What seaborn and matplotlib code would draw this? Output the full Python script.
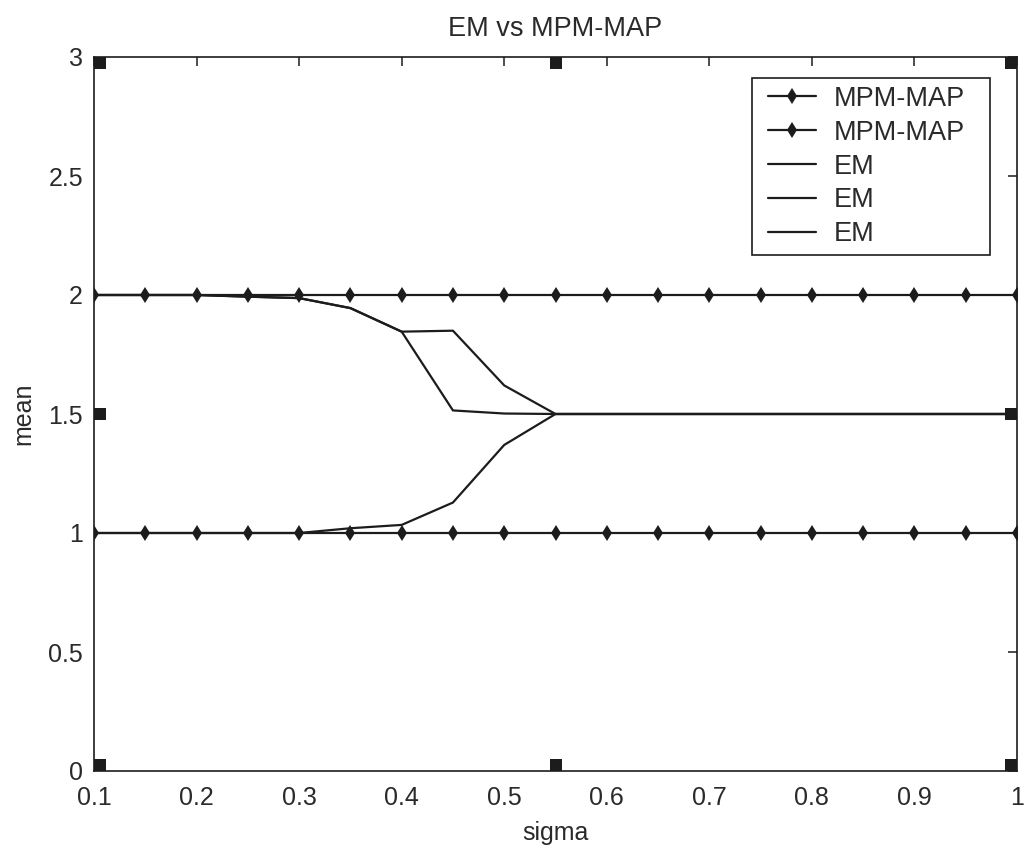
import numpy as np
import pandas as pd
import seaborn as sns
import matplotlib
matplotlib.use("Agg")
import matplotlib.pyplot as plt
from matplotlib.path import Path
from matplotlib.ticker import FuncFormatter, MultipleLocator
from matplotlib.legend_handler import HandlerLine2D
from matplotlib.lines import Line2D

# ---------------- data ----------------
sigma = [0.10, 0.15, 0.20, 0.25, 0.30, 0.35, 0.40, 0.45, 0.50, 0.55,
         0.60, 0.65, 0.70, 0.75, 0.80, 0.85, 0.90, 0.95, 1.00]
mpm_upper = [2, 2, 2, 2, 2, 2, 2, 2, 2, 2, 2, 2, 2, 2, 2, 2, 2, 2, 2]
mpm_lower = [1, 1, 1, 1, 1, 1, 1, 1, 1, 1, 1, 1, 1, 1, 1, 1, 1, 1, 1]
em_a = [2.0, 2.0, 2.0, 1.993, 1.987, 1.945, 1.846, 1.515, 1.502, 1.5,
        1.5, 1.5, 1.5, 1.5, 1.5, 1.5, 1.5, 1.5, 1.5]
em_b = [2.0, 2.0, 2.0, 1.993, 1.987, 1.945, 1.846, 1.850, 1.620, 1.5,
        1.5, 1.5, 1.5, 1.5, 1.5, 1.5, 1.5, 1.5, 1.5]
em_c = [1.0, 1.0, 1.0, 1.0, 1.0, 1.020, 1.034, 1.128, 1.370, 1.5,
        1.5, 1.5, 1.5, 1.5, 1.5, 1.5, 1.5, 1.5, 1.5]
square_x = [0.10, 0.10, 0.10, 0.55, 0.55, 1.00, 1.00, 1.00]
square_y = [0.0, 1.5, 3.0, 0.0, 3.0, 0.0, 1.5, 3.0]

series_labels = ["MPM-MAP", "MPM-MAP", "EM", "EM", "EM"]
title = "EM vs MPM-MAP"
xlabel = "sigma"
ylabel = "mean"
xlim = (0.1, 1.0)
ylim = (0.0, 3.0)

# ---------------- style ----------------
sns.set_theme(style="white")
plt.rcParams["font.family"] = ["Liberation Sans", "DejaVu Sans"]
INK = "#1c1c1c"
TXT = "#2a2a2a"

fig = plt.figure(figsize=(10.24, 8.52), dpi=100, facecolor="white")
ax = fig.add_axes([94 / 1024, 1 - 771 / 852, (1017 - 94) / 1024, (771 - 57) / 852])
ax.set_facecolor("white")

line_kw = dict(color=INK, linewidth=1.6, ax=ax, legend=False)
sns.lineplot(x=sigma, y=mpm_upper, marker="d", markersize=8, markeredgewidth=0,
             markerfacecolor=INK, label=series_labels[0], **line_kw)
sns.lineplot(x=sigma, y=mpm_lower, marker="d", markersize=8, markeredgewidth=0,
             markerfacecolor=INK, label=series_labels[1], **line_kw)
sns.lineplot(x=sigma, y=em_a, label=series_labels[2], **line_kw)
sns.lineplot(x=sigma, y=em_b, label=series_labels[3], **line_kw)
sns.lineplot(x=sigma, y=em_c, label=series_labels[4], **line_kw)


# square markers that sit inside the frame at the data points
def inward_square(x, y):
    dx = 0.5 if x == xlim[0] else (-0.5 if x == xlim[1] else 0.0)
    dy = 0.5 if y == ylim[0] else (-0.5 if y == ylim[1] else 0.0)
    verts = [(dx - 0.5, dy - 0.5), (dx + 0.5, dy - 0.5), (dx + 0.5, dy + 0.5),
             (dx - 0.5, dy + 0.5), (dx - 0.5, dy - 0.5)]
    return Path(verts, closed=True)


for sx, sy in zip(square_x, square_y):
    ax.plot([sx], [sy], linestyle="none", marker=inward_square(sx, sy),
            markersize=17.5, color=INK, markeredgewidth=0, zorder=5)

ax.set_xlim(*xlim)
ax.set_ylim(*ylim)
ax.xaxis.set_major_locator(MultipleLocator(0.1))
ax.yaxis.set_major_locator(MultipleLocator(0.5))
fmt = FuncFormatter(lambda v, p: f"{v:g}")
ax.xaxis.set_major_formatter(fmt)
ax.yaxis.set_major_formatter(fmt)

for s in ax.spines.values():
    s.set_visible(True)
    s.set_color(INK)
    s.set_linewidth(1.2)

ax.tick_params(axis="both", which="major", direction="in", length=6.5, width=1.1,
               color=INK, top=True, right=True, labelsize=18, labelcolor=TXT)
ax.tick_params(axis="x", pad=11)
ax.tick_params(axis="y", pad=8)

ax.set_title(title, fontsize=19.5, color=TXT, pad=15)
ax.set_xlabel(xlabel, fontsize=18, color=TXT, labelpad=8)
ax.set_ylabel(ylabel, fontsize=18, color=TXT, labelpad=9)


class ShiftedLineHandler(HandlerLine2D):
    """Line handle drawn with a small extra gap on its left."""
    shift = 6.0  # points

    def get_xdata(self, legend, xdescent, ydescent, width, height, fontsize):
        return super().get_xdata(legend, xdescent - self.shift, ydescent,
                                 width - self.shift, height, fontsize)


handles, labels = ax.get_legend_handles_labels()
x0 = (752 - 94) / 923
w = (990 - 752) / 923
leg = ax.legend(handles, labels, loc="upper left",
                bbox_to_anchor=(x0, 0.4, w, 0.571), mode="expand",
                borderaxespad=0, fontsize=19.5, frameon=True, fancybox=False,
                framealpha=1, edgecolor=INK, handlelength=1.75 + 6.0 / 19.5,
                handletextpad=0.65, labelspacing=0.29, borderpad=0.3,
                handler_map={Line2D: ShiftedLineHandler()})
leg.get_frame().set_linewidth(1.2)
for t in leg.get_texts():
    t.set_color(TXT)

fig.savefig("out.png", dpi=100, facecolor="white")
